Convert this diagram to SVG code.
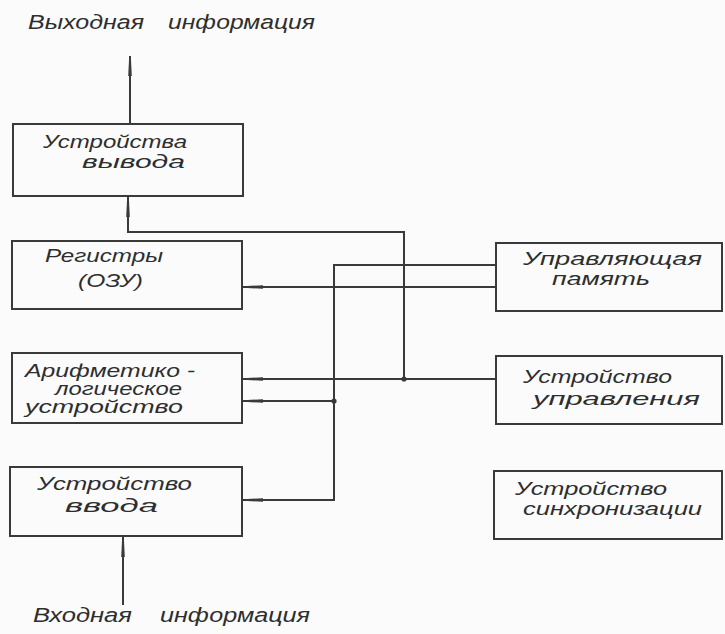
<svg xmlns="http://www.w3.org/2000/svg" width="725" height="634" viewBox="0 0 725 634">
<style>
.bg{fill:#fbfbfb}
.box{fill:none;stroke:#3a3a3a;stroke-width:2}
.ln{fill:none;stroke:#3a3a3a;stroke-width:2}
.t{font-family:"Liberation Sans","DejaVu Sans",sans-serif;font-style:italic;font-size:18px;fill:#2e2e2e}
.big{font-size:20px}
.dot{fill:#3a3a3a}
</style>
<defs>
<marker id="arr" viewBox="0 0 20 6" refX="20" refY="3" markerWidth="20" markerHeight="6" markerUnits="userSpaceOnUse" orient="auto">
<path d="M0,1.2 L20,2.2 L20,3.8 L0,4.8 Z" fill="#3a3a3a"/>
</marker>
<marker id="arrS" viewBox="0 0 20 6" refX="20" refY="3" markerWidth="20" markerHeight="6" markerUnits="userSpaceOnUse" orient="auto-start-reverse">
<path d="M0,1.2 L20,2.2 L20,3.8 L0,4.8 Z" fill="#3a3a3a"/>
</marker>
</defs>
<rect class="bg" x="0" y="0" width="725" height="634"/>

<g id="label-output">
<text class="t big" x="28" y="29" textLength="116" lengthAdjust="spacingAndGlyphs">Выходная</text>
<text class="t big" x="168" y="29" textLength="147" lengthAdjust="spacingAndGlyphs">информация</text>
</g>
<g id="label-input">
<text class="t big" x="33" y="622" textLength="99" lengthAdjust="spacingAndGlyphs">Входная</text>
<text class="t big" x="160" y="622" textLength="150" lengthAdjust="spacingAndGlyphs">информация</text>
</g>

<g id="connectors">
<path class="ln" d="M130,124 V56" marker-end="url(#arr)"/>
<path class="ln" d="M404,379 V232 H128 V197" marker-end="url(#arr)"/>
<path class="ln" d="M123,605 V537" marker-end="url(#arr)"/>
<path class="ln" d="M496,287 H243" marker-end="url(#arr)"/>
<path class="ln" d="M496,265 H334 V500 H243" marker-end="url(#arr)"/>
<path class="ln" d="M496,379 H243" marker-end="url(#arr)"/>
<path class="ln" d="M334,401 H243" marker-end="url(#arr)"/>
<circle class="dot" cx="404" cy="379" r="2.6"/>
<circle class="dot" cx="334" cy="401" r="2.6"/>
</g>

<g id="node-output">
<rect class="box" x="13" y="124" width="230" height="72"/>
<text class="t" x="43" y="148" textLength="144" lengthAdjust="spacingAndGlyphs">Устройства</text>
<text class="t" x="82" y="168" textLength="103" lengthAdjust="spacingAndGlyphs">вывода</text>
</g>
<g id="node-registers">
<rect class="box" x="12" y="241" width="230" height="68"/>
<text class="t" x="45" y="262" textLength="118" lengthAdjust="spacingAndGlyphs">Регистры</text>
<text class="t" x="78" y="287" textLength="65" lengthAdjust="spacingAndGlyphs">(ОЗУ)</text>
</g>
<g id="node-alu">
<rect class="box" x="12" y="353" width="230" height="70"/>
<text class="t" x="25" y="377" textLength="170" lengthAdjust="spacingAndGlyphs">Арифметико -</text>
<text class="t" x="55" y="395" textLength="127" lengthAdjust="spacingAndGlyphs">логическое</text>
<text class="t" x="25" y="413" textLength="158" lengthAdjust="spacingAndGlyphs">устройство</text>
</g>
<g id="node-input">
<rect class="box" x="10" y="467" width="232" height="69"/>
<text class="t" x="37" y="490" textLength="155" lengthAdjust="spacingAndGlyphs">Устройство</text>
<text class="t" x="65" y="512" textLength="93" lengthAdjust="spacingAndGlyphs">ввода</text>
</g>
<g id="node-control-memory">
<rect class="box" x="496" y="243" width="226" height="68"/>
<text class="t" x="523" y="265" textLength="179" lengthAdjust="spacingAndGlyphs">Управляющая</text>
<text class="t" x="552" y="285" textLength="98" lengthAdjust="spacingAndGlyphs">память</text>
</g>
<g id="node-control-unit">
<rect class="box" x="496" y="356" width="226" height="68"/>
<text class="t" x="523" y="383" textLength="149" lengthAdjust="spacingAndGlyphs">Устройство</text>
<text class="t" x="533" y="405" textLength="167" lengthAdjust="spacingAndGlyphs">управления</text>
</g>
<g id="node-sync">
<rect class="box" x="494" y="471" width="228" height="68"/>
<text class="t" x="515" y="495" textLength="152" lengthAdjust="spacingAndGlyphs">Устройство</text>
<text class="t" x="523" y="515" textLength="179" lengthAdjust="spacingAndGlyphs">синхронизации</text>
</g>
</svg>
